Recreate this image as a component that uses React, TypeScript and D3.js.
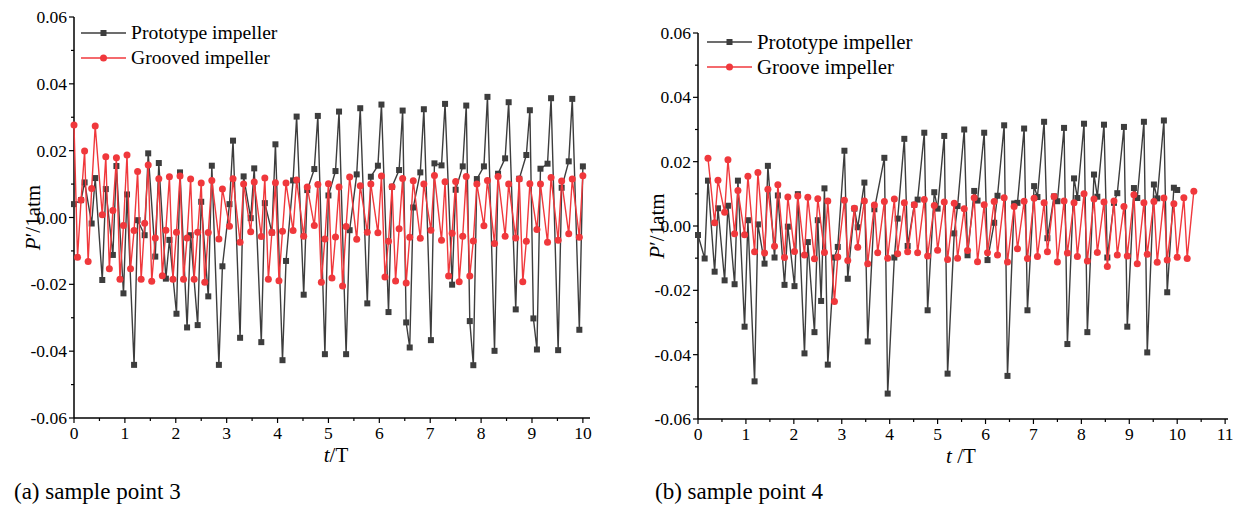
import React from "react";
import * as d3 from "d3";

// time step between samples (t/T)
const DT = 1 / 14.4;

const N = null;

// ---------- (a) sample point 3 ----------
const protoA: (number | null)[] = [
  0.004, N, 0.0052, 0.0105, N, -0.0018, 0.0118, N, -0.0187, 0.0085,
  N, -0.0112, 0.0154, N, -0.0227, 0.0069, N, -0.0441, -0.0008, N,
  -0.0053, 0.0192, N, -0.0117, 0.0163, N, -0.0183, -0.0067, N, -0.0288,
  0.0135, N, -0.0329, -0.0053, N, -0.0322, 0.0047, N, -0.0236, 0.0155,
  N, -0.0441, -0.0146, N, 0.004, 0.023, N, -0.036, 0.0123, N,
  -0.0002, 0.0147, N, -0.0373, 0.0043, N, -0.0045, 0.0219, N, -0.0427,
  -0.013, N, 0.0111, 0.0302, N, -0.0231, 0.0082, N, 0.0145, 0.0304,
  N, -0.0409, 0.0066, N, 0.0139, 0.0317, N, -0.0409, -0.0038, N,
  0.0129, 0.0327, N, -0.0257, 0.0122, N, 0.0155, 0.0338, N, -0.0283,
  0.0092, N, 0.0142, 0.032, -0.0314, -0.0389, 0.003, N, 0.0135, 0.0324,
  N, -0.0367, 0.0162, N, 0.0156, 0.034, N, -0.0201, 0.0083, N,
  0.0153, 0.0335, -0.031, -0.0442, 0.0115, N, 0.0153, 0.0361, N, -0.0399,
  0.0131, N, 0.0177, 0.0345, N, -0.0275, 0.0116, N, 0.0187, 0.0321,
  -0.0302, -0.0395, 0.0146, N, 0.0161, 0.0357, N, -0.0397, 0.0089, N,
  0.0168, 0.0355, N, -0.0336, 0.0153,
];

const grooveA: (number | null)[] = [
  0.0277, -0.0119, 0.0052, 0.0199, -0.0132, 0.0087, 0.0274, N, 0.0008, 0.0182,
  -0.0153, 0.0021, 0.0179, -0.0185, -0.0024, 0.0187, -0.0153, -0.0039, 0.0138, -0.0185,
  -0.0017, 0.0157, -0.0191, -0.0061, 0.0116, -0.0174, -0.0038, 0.0122, -0.0185, -0.0044,
  0.0124, -0.0185, -0.0061, 0.0115, -0.0185, -0.0044, 0.0103, -0.0194, -0.0045, 0.0111,
  N, -0.0064, 0.0085, N, -0.0026, 0.0116, N, -0.0074, 0.01, N,
  -0.0043, 0.0106, N, -0.0057, 0.0118, -0.0185, -0.0045, 0.0104, -0.0189, -0.0041,
  0.0103, N, -0.0039, 0.0112, N, -0.0056, 0.0091, N, -0.0024, 0.0099,
  -0.0194, -0.0064, 0.0101, -0.0181, -0.0058, 0.0091, -0.0205, -0.0027, 0.0121, N,
  -0.0065, 0.0095, N, -0.0044, 0.01, N, -0.0046, 0.0124, -0.0178, -0.0071,
  0.0092, -0.019, -0.0034, 0.0117, -0.0196, -0.0059, 0.011, N, -0.0062, 0.01,
  N, -0.0038, 0.0126, N, -0.0068, 0.0107, -0.0175, -0.0047, 0.0108, -0.0192,
  -0.0056, 0.0123, -0.0175, -0.007, 0.01, N, -0.0025, 0.0111, N, -0.0078,
  0.0123, N, -0.0056, 0.01, N, -0.0061, 0.0115, -0.0192, -0.0071, 0.0101,
  N, -0.0036, 0.01, N, -0.0074, 0.012, N, -0.0068, 0.0109, N,
  -0.0049, 0.0115, N, -0.0059, 0.0125,
];

// ---------- (b) sample point 4 ----------
const protoB: (number | null)[] = [
  -0.0028, N, -0.0101, 0.0141, N, -0.0142, 0.0055, N, -0.0169, 0.0063,
  N, -0.0181, 0.0141, N, -0.0313, 0.0018, N, -0.0483, 0.0005, N,
  -0.0117, 0.0187, N, -0.0098, 0.0095, N, -0.0183, -0.0002, N, -0.0187,
  0.0099, N, -0.0396, -0.005, N, -0.033, 0.0018, -0.0233, 0.0117, -0.0431,
  N, -0.0098, -0.0065, N, 0.0234, -0.0164, N, 0.0054, -0.0004, N,
  0.0135, -0.0359, N, 0.0052, N, N, 0.0212, -0.0521, N, -0.0098,
  0.0023, N, 0.0271, -0.0062, N, 0.0066, 0.0082, N, 0.029, -0.0262,
  N, 0.0105, 0.0054, N, 0.028, -0.0459, N, -0.0023, 0.0062, N,
  0.03, -0.0091, N, 0.0109, 0.0079, N, 0.029, -0.0106, N, 0.001,
  0.0094, N, 0.0313, -0.0466, N, 0.007, 0.0072, N, 0.0303, -0.0262,
  N, 0.0124, 0.009, N, 0.0324, -0.0038, N, 0.0092, 0.0077, N,
  0.0305, -0.0367, N, 0.0148, 0.0087, N, 0.0318, -0.033, N, 0.016,
  0.0091, N, 0.0315, -0.0098, N, 0.0072, 0.0102, N, 0.0308, -0.0313,
  N, 0.0118, 0.0087, N, 0.0324, -0.0393, N, 0.0129, 0.0086, N,
  0.0328, -0.0206, N, 0.0119, 0.0112,
];

const grooveB: (number | null)[] = [
  N, N, N, 0.0211, N, 0.001, 0.0142, N, 0.0043, 0.0206,
  N, -0.0024, 0.011, N, -0.0027, 0.0155, N, -0.008, 0.0166, N,
  -0.0084, 0.0114, N, -0.0063, 0.0128, N, -0.0098, 0.009, N, -0.0079,
  0.0093, N, -0.009, 0.0089, N, -0.0102, 0.0085, N, -0.0082, 0.0078,
  N, -0.0235, -0.0096, N, 0.008, -0.0107, N, 0.0055, -0.0066, N,
  0.0078, -0.0117, N, 0.0065, -0.0083, N, 0.0076, -0.01, N, 0.0084,
  -0.0086, N, 0.0072, -0.008, N, 0.0066, -0.0083, N, 0.0082, -0.0093,
  N, 0.0064, -0.0075, N, 0.0075, -0.0104, N, 0.0071, -0.01, N,
  0.0054, -0.0076, N, 0.0088, -0.0111, N, 0.0066, -0.0083, N, 0.0076,
  -0.009, N, 0.0088, -0.0112, N, 0.0061, -0.0071, N, 0.0077, -0.0101,
  N, 0.0086, -0.0095, N, 0.0072, -0.008, N, 0.0092, -0.0112, N,
  0.0078, -0.0084, N, 0.0072, -0.0095, N, 0.01, -0.0109, N, 0.0084,
  -0.0082, N, 0.0075, -0.0126, N, 0.0078, -0.009, N, 0.0061, -0.0093,
  N, 0.0097, -0.0117, N, 0.0072, -0.0088, N, 0.0076, -0.0113, N,
  0.0087, -0.0106, N, 0.0069, -0.0097, N, 0.0088, -0.0101, N, 0.0108,
];

const yTicks = [-0.06, -0.04, -0.02, 0.0, 0.02, 0.04, 0.06];
const xTicksA = [0, 1, 2, 3, 4, 5, 6, 7, 8, 9, 10];
const xTicksB = [0, 1, 2, 3, 4, 5, 6, 7, 8, 9, 10, 11];

const BLACK = "#3d3d3d";
const RED = "#f0383c";
const FONT = "'Liberation Serif', 'Times New Roman', serif";

type Pt = { t: number; v: number };
const toPts = (arr: (number | null)[]): Pt[] =>
  arr
    .map((v, i) => (v === null ? null : { t: i * DT, v }))
    .filter((p): p is Pt => p !== null);

type PanelProps = {
  proto: (number | null)[];
  groove: (number | null)[];
  xMax: number;
  xTicks: number[];
  left: number;
  right: number;
  top: number;
  bottom: number;
  legend: [string, string];
  legendX: number;
  legendY: number;
  legendFont: number;
  xLabelGap: string;
  xLabelX: number;
  yLabelX: number;
  caption: string;
  captionX: number;
};

const fmtTick = (v: number) => d3.format(".2f")(v).replace("\u2212", "-");

function Panel(p: PanelProps) {
  const x = d3.scaleLinear().domain([0, p.xMax]).range([p.left, p.right]);
  const y = d3.scaleLinear().domain([-0.06, 0.06]).range([p.bottom, p.top]);
  const line = d3
    .line<Pt>()
    .x((d) => x(d.t))
    .y((d) => y(d.v));
  const protoPts = toPts(p.proto);
  const groovePts = toPts(p.groove);
  const yMinor = d3.range(-0.06, 0.0601, 0.01);
  const xMinor = d3.range(0, p.xMax, 0.5);
  const ySpan = (p.top + p.bottom) / 2;

  return (
    <g fontFamily={FONT} fill="#000">
      {/* axes */}
      <line x1={p.left} x2={p.left} y1={p.top} y2={p.bottom} stroke="#000" strokeWidth={1.5} />
      <line x1={p.left} x2={p.right} y1={p.bottom} y2={p.bottom} stroke="#000" strokeWidth={1.5} />
      {yMinor.map((v, i) => (
        <line key={"ym" + i} x1={p.left - (i % 2 === 0 ? 5 : 3)} x2={p.left} y1={y(v)} y2={y(v)} stroke="#000" strokeWidth={1.2} />
      ))}
      {xMinor.map((v, i) => (
        <line key={"xm" + i} x1={x(v)} x2={x(v)} y1={p.bottom} y2={p.bottom + (i % 2 === 0 ? 5 : 3)} stroke="#000" strokeWidth={1.2} />
      ))}
      {yTicks.map((v) => (
        <text key={"yt" + v} x={p.left - 7} y={y(v)} dy="0.35em" textAnchor="end" fontSize={17.5}>
          {fmtTick(v)}
        </text>
      ))}
      {p.xTicks.map((v) => (
        <text key={"xt" + v} x={x(v)} y={p.bottom + 21} textAnchor="middle" fontSize={17.5}>
          {v}
        </text>
      ))}
      {/* axis titles */}
      <text x={p.xLabelX} y={p.bottom + 44} textAnchor="middle" fontSize={21}>
        <tspan fontStyle="italic">t</tspan>
        {p.xLabelGap + "/T"}
      </text>
      <text transform={`translate(${p.yLabelX},${ySpan}) rotate(-90)`} textAnchor="middle" fontSize={21}>
        <tspan fontStyle="italic">P</tspan>
        {"′/1atm"}
      </text>

      {/* series */}
      <path d={line(protoPts) || ""} fill="none" stroke={BLACK} strokeWidth={1.4} />
      {protoPts.map((d, i) => (
        <rect key={"pb" + i} x={x(d.t) - 3} y={y(d.v) - 3} width={6} height={6} fill={BLACK} />
      ))}
      <path d={line(groovePts) || ""} fill="none" stroke={RED} strokeWidth={1.4} />
      {groovePts.map((d, i) => (
        <circle key={"pr" + i} cx={x(d.t)} cy={y(d.v)} r={3.5} fill={RED} />
      ))}

      {/* legend */}
      <g>
        <line x1={p.legendX} x2={p.legendX + 45} y1={p.legendY} y2={p.legendY} stroke={BLACK} strokeWidth={1.4} />
        <rect x={p.legendX + 22.5 - 3} y={p.legendY - 3} width={6} height={6} fill={BLACK} />
        <text x={p.legendX + 50} y={p.legendY} dy="0.33em" fontSize={p.legendFont}>
          {p.legend[0]}
        </text>
        <line x1={p.legendX} x2={p.legendX + 45} y1={p.legendY + 25} y2={p.legendY + 25} stroke={RED} strokeWidth={1.4} />
        <circle cx={p.legendX + 22.5} cy={p.legendY + 25} r={3.5} fill={RED} />
        <text x={p.legendX + 50} y={p.legendY + 25} dy="0.33em" fontSize={p.legendFont}>
          {p.legend[1]}
        </text>
      </g>

      <text x={p.captionX} y={499} fontSize={23}>
        {p.caption}
      </text>
    </g>
  );
}

export default function App() {
  return (
    <svg width={1239} height={508} style={{ display: "block", position: "absolute", left: 0, top: 0 }}>
      <rect width={1239} height={508} fill="#fff" />
      <Panel
        proto={protoA}
        groove={grooveA}
        xMax={10.14}
        xTicks={xTicksA}
        left={74}
        right={590}
        top={17}
        bottom={418}
        legend={["Prototype impeller", "Grooved impeller"]}
        legendX={81}
        legendY={33}
        legendFont={19.6}
        xLabelGap=""
        xLabelX={336}
        yLabelX={40}
        caption="(a) sample point 3"
        captionX={14}
      />
      <Panel
        proto={protoB}
        groove={grooveB}
        xMax={11.06}
        xTicks={xTicksB}
        left={698}
        right={1228}
        top={33}
        bottom={419}
        legend={["Prototype impeller", "Groove impeller"]}
        legendX={707}
        legendY={42}
        legendFont={20.8}
        xLabelGap=" "
        xLabelX={961}
        yLabelX={664}
        caption="(b) sample point 4"
        captionX={655}
      />
    </svg>
  );
}
